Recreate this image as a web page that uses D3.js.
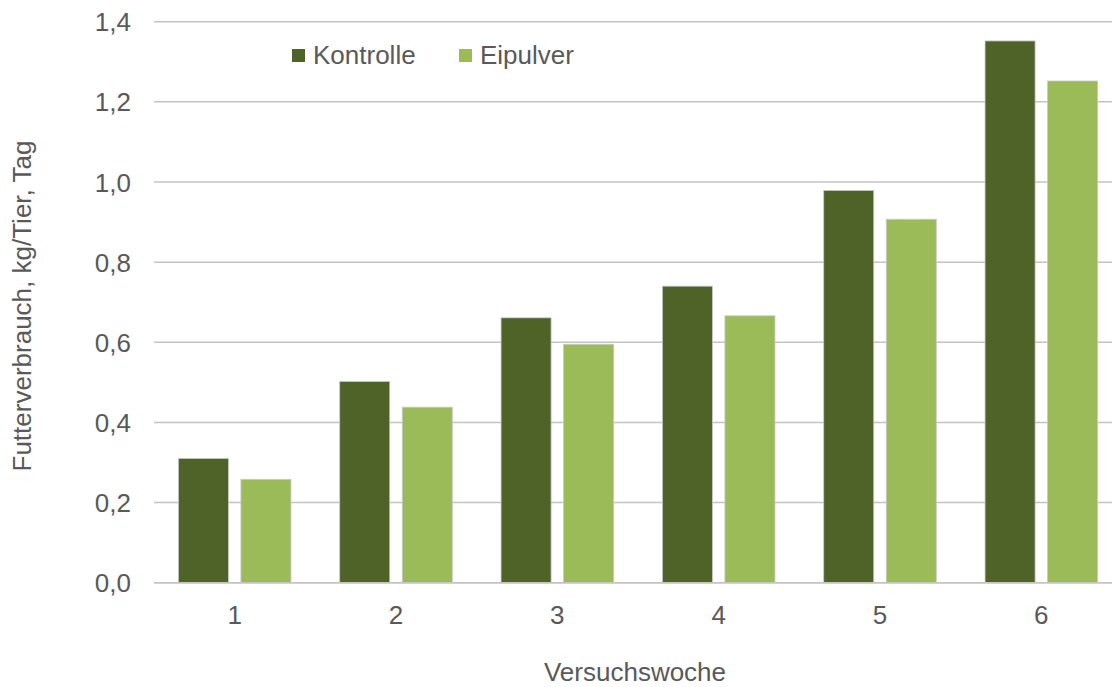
<!DOCTYPE html>
<html>
<head>
<meta charset="utf-8">
<script src="https://cdn.jsdelivr.net/npm/d3@7"></script>
<style>
  html, body { margin: 0; padding: 0; background: #fff; }
  svg { display: block; font-family: "Liberation Sans", Arial, sans-serif; }
</style>
</head>
<body>
<svg id="chart" width="1112" height="687"></svg>
<script>
const categories = ["1", "2", "3", "4", "5", "6"];
const seriesNames = ["Kontrolle", "Eipulver"];
const kontrolle = [0.310, 0.502, 0.661, 0.740, 0.979, 1.352];
const eipulver  = [0.258, 0.438, 0.595, 0.666, 0.907, 1.252];
const yTicks = [0, 0.2, 0.4, 0.6, 0.8, 1.0, 1.2, 1.4];
const colors = ["#4f6228", "#9bbb59"];

const seriesValues = [kontrolle, eipulver];
const data = categories.map((c, i) => ({ cat: c, vals: seriesNames.map((s, j) => ({ key: s, value: seriesValues[j][i] })) }));

const svg = d3.select("#chart");
const textColor = "#595959";
const gridColor = "#c4c4c4";
const fs = "26px";

const x0 = d3.scaleBand().domain(categories).range([154, 1122]).padding(0);
const x1 = d3.scaleBand().domain(seriesNames).range([0, x0.bandwidth()]).paddingInner(0.2).paddingOuter(0.39);
const y = d3.scaleLinear().domain([0, 1.4]).range([582.7, 21.7]);
const color = d3.scaleOrdinal().domain(seriesNames).range(colors);
const fmt = d => d3.format(".1f")(d).replace(".", ",");

// gridlines
svg.append("g")
  .selectAll("line")
  .data(yTicks)
  .join("line")
  .attr("x1", 154).attr("x2", 1112)
  .attr("y1", d => y(d)).attr("y2", d => y(d))
  .attr("stroke", gridColor).attr("stroke-width", 1.5);

// y axis labels
const yAxis = d3.axisLeft(y).tickValues(yTicks).tickFormat(fmt).tickSize(0).tickPadding(0);
const yg = svg.append("g").attr("transform", "translate(131,0)").call(yAxis);
yg.select(".domain").remove();
yg.selectAll("text").attr("fill", textColor).style("font-size", fs).attr("dy", "0.35em").attr("x", 0);

// bars
const groups = svg.append("g").selectAll("g")
  .data(data).join("g")
  .attr("transform", d => `translate(${x0(d.cat)},0)`);
groups.selectAll("rect")
  .data(d => d.vals).join("rect")
  .attr("x", d => x1(d.key))
  .attr("width", x1.bandwidth())
  .attr("y", d => y(d.value))
  .attr("height", d => y(0) - y(d.value))
  .attr("fill", d => color(d.key))
  .attr("stroke", "#c8c8c8").attr("stroke-width", 0.8);

// x axis baseline
svg.append("line")
  .attr("x1", 154).attr("x2", 1112)
  .attr("y1", y(0)).attr("y2", y(0))
  .attr("stroke", gridColor).attr("stroke-width", 1.5);

// x axis labels
const xAxis = d3.axisBottom(x0).tickSize(0).tickPadding(0);
const xg = svg.append("g").attr("transform", "translate(0,624)").call(xAxis);
xg.select(".domain").remove();
xg.selectAll("text").attr("fill", textColor).style("font-size", fs).attr("dy", 0).attr("y", 0);

// axis titles
svg.append("text")
  .attr("x", 635).attr("y", 681)
  .attr("text-anchor", "middle")
  .attr("fill", textColor).style("font-size", fs)
  .text("Versuchswoche");

svg.append("text")
  .attr("transform", "translate(31,306) rotate(-90)")
  .attr("text-anchor", "middle")
  .attr("fill", textColor).style("font-size", fs)
  .text("Futterverbrauch, kg/Tier, Tag");

// legend
const legendX = [292, 459];
const legend = svg.append("g").selectAll("g")
  .data(seriesNames).join("g")
  .attr("transform", (d, i) => `translate(${legendX[i]},49)`);
legend.append("rect")
  .attr("width", 13).attr("height", 13)
  .attr("fill", d => color(d));
legend.append("text")
  .attr("x", 21).attr("y", 14.5)
  .attr("fill", textColor).style("font-size", fs)
  .text(d => d);
</script>
</body>
</html>
